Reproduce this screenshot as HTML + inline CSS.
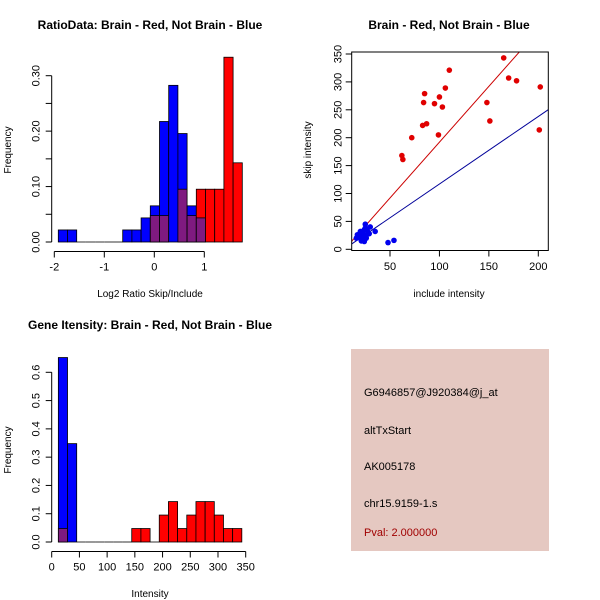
<!DOCTYPE html>
<html><head><meta charset="utf-8"><style>
html,body{margin:0;padding:0;background:#fff;}
svg{display:block;font-family:"Liberation Sans",sans-serif;}
</style></head><body>
<svg id="c" width="600" height="600" viewBox="0 0 600 600" xmlns="http://www.w3.org/2000/svg">
<rect width="600" height="600" fill="#fff"/>
<text x="150" y="29" font-size="12" font-weight="bold" text-anchor="middle">RatioData: Brain - Red, Not Brain - Blue</text>
<text x="449" y="29" font-size="12" font-weight="bold" text-anchor="middle">Brain - Red, Not Brain - Blue</text>
<text x="150" y="329" font-size="12" font-weight="bold" text-anchor="middle">Gene Itensity: Brain - Red, Not Brain - Blue</text>
<g>
<rect x="351" y="349" width="198" height="202" fill="#e5c8c1"/>
<text x="364" y="396" font-size="11">G6946857@J920384@j_at</text>
<text x="364" y="434" font-size="11">altTxStart</text>
<text x="364" y="470" font-size="11">AK005178</text>
<text x="364" y="507" font-size="11">chr15.9159-1.s</text>
<text x="364" y="536" font-size="11" fill="#a00000">Pval: 2.000000</text>
</g>
</svg>
<script>
// Ratio histogram data
const ratioBinStart = -1.92, ratioBinWidth = 0.184;
const ratioBlue = [1,1,0,0,0,0,0,1,1,2,3,10,13,9,3,2,0,0,0,0];
const ratioRed  = [0,0,0,0,0,0,0,0,0,0,1,1,0,2,1,2,2,2,7,3];
const ratioBlueN = 46, ratioRedN = 21;
const ratioXTicks = [-2,-1,0,1];
const ratioYTicks = [0,0.05,0.1,0.15,0.2,0.25,0.3];
const ratioYLabels = ["0.00","","0.10","","0.20","","0.30"];
// Scatter data
const redInclude = [165,110,170,178,106,202,85,100,84,95,148,103,151,87,83,72,99,201,62,63];
const redSkip    = [343,321,307,302,289,291,279,273,263,261,263,255,230,225,222,200,205,214,168,161];
const blueInclude = [25,30,35,48,54,20,22,24,26,18,16,21,23,27,19,28,24,22,17,25,29,20,23,26,21];
const blueSkip    = [45,40,32,12,16,28,30,35,25,22,20,18,26,33,24,30,14,20,26,38,28,32,22,20,15];
const redLine = [-8, 2.0];
const blueLine = [-4, 1.21];
const scatXTicks = [50,100,150,200];
const scatYTicks = [0,50,100,150,200,250,300,350];
// Intensity histogram data
const intBinStart = 12, intBinWidth = 16.55;
const intBlue = [30,16,0,0,0,0,0,0,0,0,0,0,0,0,0,0,0,0,0,0];
const intRed  = [1,0,0,0,0,0,0,0,1,1,0,2,3,1,2,3,3,2,1,1];
const intBlueN = 46, intRedN = 21;
const intXTicks = [0,50,100,150,200,250,300,350];
const intYTicks = [0,0.1,0.2,0.3,0.4,0.5,0.6];
const intYLabels = ["0.0","0.1","0.2","0.3","0.4","0.5","0.6"];

const svg = document.getElementById('c');
const NS = 'http://www.w3.org/2000/svg';
function mk(tag, attrs, parent){const e=document.createElementNS(NS,tag);for(const k in attrs)e.setAttribute(k,attrs[k]);(parent||svg).appendChild(e);return e;}
function lin(d0,d1,r0,r1){return v=>r0+(v-d0)*(r1-r0)/(d1-d0);}

function hist(g, sx, sy, start, w, blue, bn, red, rn, prefix){
  const nz = blue.map((b,i)=>b+red[i]>0);
  const first = nz.indexOf(true), last = nz.lastIndexOf(true);
  for(let i=0;i<blue.length;i++){
    const b=blue[i]/bn, r=red[i]/rn, x0=sx(start+i*w), x1=sx(start+(i+1)*w);
    if(b===0&&r===0){
      if(i>first&&i<last){
        const z=mk('line',{x1:x0,x2:x1,y1:sy(0),y2:sy(0),stroke:'#000','stroke-width':0.8},g);
        
        
      }
      continue;
    }
    const draws=[];
    if(b>0) draws.push([b,'#0000ff','blue']);
    if(r>0) draws.push([r,'#ff0000','red']);
    if(b>0&&r>0){draws.sort((a,c)=>c[0]-a[0]);draws.length=1;draws.push([Math.min(b,r),'#7f1a80','overlap']);}
    draws.forEach(d=>{
      const el=mk('rect',{x:x0,y:sy(d[0]),width:x1-x0,height:sy(0)-sy(d[0]),fill:d[1],stroke:'#000','stroke-width':0.8},g);
      
      
    });
  }
}
function xAxis(g, sx, ticks, y, labels){
  mk('line',{x1:sx(ticks[0]),x2:sx(ticks[ticks.length-1]),y1:y,y2:y,stroke:'#000'},g);
  ticks.forEach((t,i)=>{mk('line',{x1:sx(t),x2:sx(t),y1:y,y2:y+6,stroke:'#000'},g);
    const tx=mk('text',{x:sx(t),y:y+19,'font-size':11,'text-anchor':'middle'},g);tx.textContent=labels?labels[i]:t;
    
    });
}
function yAxis(g, sy, ticks, x, labels){
  mk('line',{x1:x,x2:x,y1:sy(ticks[0]),y2:sy(ticks[ticks.length-1]),stroke:'#000'},g);
  ticks.forEach((t,i)=>{mk('line',{x1:x,x2:x-6,y1:sy(t),y2:sy(t),stroke:'#000'},g);
    const l=labels?labels[i]:String(t); if(!l) return;
    const tx=mk('text',{x:x-12,y:sy(t),'font-size':11,'text-anchor':'middle',transform:`rotate(-90 ${x-12} ${sy(t)})`},g);tx.textContent=l;
    
    });
}
function label(txt,x,y,rot,name){const t=mk('text',{x:x,y:y,'font-size':10,'text-anchor':'middle'});if(rot)t.setAttribute('transform',`rotate(-90 ${x} ${y})`);t.textContent=txt;
  
  }

// Plot 1
{const g=mk('g',{});
 const sx=lin(-2,1,54.3,204.3), sy=lin(0,0.3,242,75.7);
 hist(g,sx,sy,ratioBinStart,ratioBinWidth,ratioBlue,ratioBlueN,ratioRed,ratioRedN,'ratio');
 xAxis(g,sx,ratioXTicks,251.5); yAxis(g,sy,ratioYTicks,51.7,ratioYLabels);
 label('Log2 Ratio Skip/Include',150,297,false,'ratio-x-axis-title');
 label('Frequency',11,150,true,'ratio-y-axis-title');}

// Plot 2
{const g=mk('g',{});
 const sx=lin(50,200,390,538.3), sy=lin(0,350,249.3,54);
 const cp=mk('clipPath',{id:'cp'},g);mk('rect',{x:352,y:52,width:196,height:199},cp);
 const l1=mk('line',{x1:sx(10),y1:sy(redLine[0]+redLine[1]*10),x2:sx(215),y2:sy(redLine[0]+redLine[1]*215),stroke:'#cc0000','clip-path':'url(#cp)'},g);
 
 const l2=mk('line',{x1:sx(10),y1:sy(blueLine[0]+blueLine[1]*10),x2:sx(215),y2:sy(blueLine[0]+blueLine[1]*215),stroke:'#000099','clip-path':'url(#cp)'},g);
 
 redInclude.forEach((v,i)=>{const c=mk('circle',{cx:sx(v),cy:sy(redSkip[i]),r:2.8,fill:'#e00000'},g);
   });
 blueInclude.forEach((v,i)=>{const c=mk('circle',{cx:sx(v),cy:sy(blueSkip[i]),r:2.8,fill:'#0000ee'},g);
   });
 const f=mk('rect',{x:351.7,y:52,width:196.6,height:198.5,fill:'none',stroke:'#000'},g);
 
 scatXTicks.forEach(t=>{mk('line',{x1:sx(t),x2:sx(t),y1:250.5,y2:256.5,stroke:'#000'},g);
   const tx=mk('text',{x:sx(t),y:270,'font-size':11,'text-anchor':'middle'},g);tx.textContent=t;
   });
 scatYTicks.forEach(t=>{mk('line',{x1:351.7,x2:345.7,y1:sy(t),y2:sy(t),stroke:'#000'},g);
   const tx=mk('text',{x:341.5,y:sy(t),'font-size':11,'text-anchor':'middle',transform:`rotate(-90 341.5 ${sy(t)})`},g);tx.textContent=t;
   });
 label('include intensity',449,297,false,'scatter-x-axis-title');
 label('skip intensity',311,150,true,'scatter-y-axis-title');}

// Plot 3
{const g=mk('g',{});
 const sx=lin(0,350,51.7,245.7), sy=lin(0,0.6,542,372.3);
 hist(g,sx,sy,intBinStart,intBinWidth,intBlue,intBlueN,intRed,intRedN,'intensity');
 xAxis(g,sx,intXTicks,551.5); yAxis(g,sy,intYTicks,51.7,intYLabels);
 label('Intensity',150,597,false,'intensity-x-axis-title');
 label('Frequency',11,450,true,'intensity-y-axis-title');}
</script>
</body></html>
